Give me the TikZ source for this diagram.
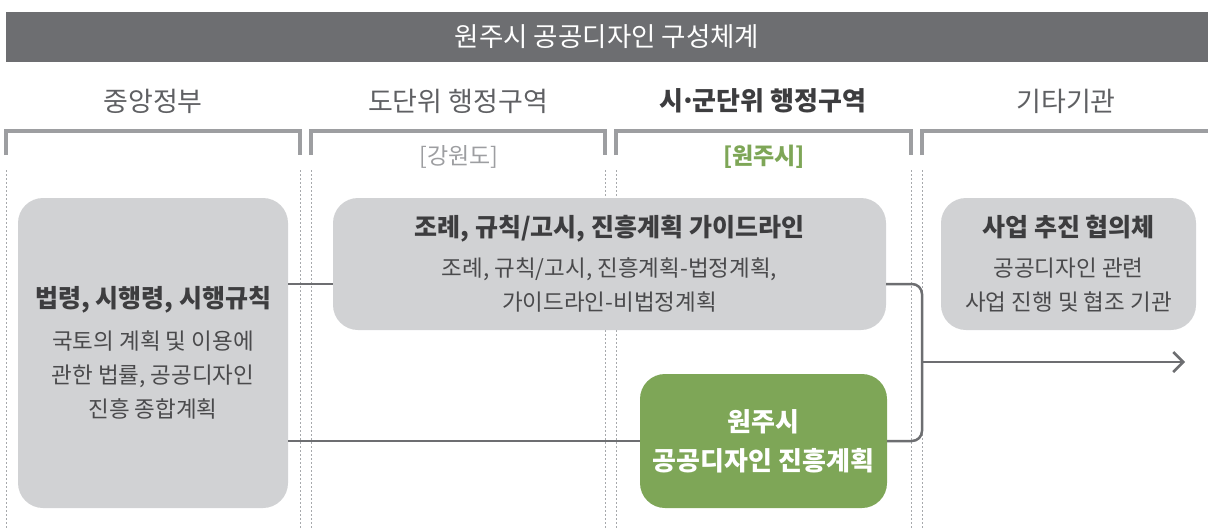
\documentclass[tikz,border=0pt]{standalone}
\usepackage{fontspec}
\setmainfont{Noto Sans CJK KR}
\usetikzlibrary{arrows.meta}
\definecolor{banner}{HTML}{6D6E71}
\definecolor{boxgray}{HTML}{D1D2D4}
\definecolor{grn}{HTML}{7EA657}
\definecolor{brk}{HTML}{9D9EA1}
\definecolor{dotc}{HTML}{A7A9AC}
\definecolor{txtd}{HTML}{3D3D3F}
\definecolor{txtm}{HTML}{4A4A4C}
\definecolor{hdc}{HTML}{5F6063}
\definecolor{connc}{HTML}{6D6E71}
\newcommand{\ttl}[1]{{\fontsize{25}{34}\selectfont\bfseries\color{txtd}#1}}
\begin{document}
\begin{tikzpicture}[x=1pt,y=-1pt,
  hd/.style={text=hdc, font=\fontsize{27}{30}\selectfont, inner sep=0},
  sublbl/.style={font=\fontsize{23}{26}\selectfont, inner sep=0},
  brkline/.style={draw=brk, line width=4pt},
  dotline/.style={draw=dotc, line width=1pt, dash pattern=on 2pt off 2pt},
  gbox/.style={fill=boxgray, rounded corners=25pt, align=center, inner sep=0, text=txtm,
     font=\fontsize{22.5}{34}\selectfont},
  greenbox/.style={fill=grn, rounded corners=25pt, align=center, inner sep=0, text=white,
     font=\fontsize{26}{39}\selectfont\bfseries},
  conn/.style={draw=connc, line width=2.5pt},
]
\useasboundingbox (0,0) rectangle (1208,528);
\node[fill=banner, minimum width=1202pt, minimum height=50pt, inner sep=0, text=white,
  font=\fontsize{26.5}{28}\selectfont] (title) at (607,37) {원주시 공공디자인 구성체계};

\foreach \x in {6,300,311,605,616,911,922} \draw[dotline] (\x,170) -- (\x,528);

\draw[brkline] (6,155) -- (6,131) -- (300,131) -- (300,155);
\draw[brkline] (311,155) -- (311,131) -- (605,131) -- (605,155);
\draw[brkline] (616,155) -- (616,131) -- (911,131) -- (911,155);
\draw[brkline] (922,155) -- (922,131) -- (1210,131);

\node[hd] (h1) at (153,101) {중앙정부};
\node[hd] (h2) at (458,101) {도단위 행정구역};
\node[hd, text=txtd, font=\fontsize{26}{30}\selectfont\bfseries] (h3) at (763,101) {시\kern-3.5pt·\kern-3.5pt군단위 행정구역};
\node[hd] (h4) at (1066,101) {기타기관};

\node[sublbl, text=brk] (s2) at (459,157) {[강원도]};
\node[sublbl, text=grn, font=\fontsize{23}{26}\selectfont\bfseries] (s3) at (764,157) {[원주시]};

\node[gbox, minimum width=270pt, minimum height=310pt] (gov) at (153,353)
  {\ttl{법령, 시행령, 시행규칙}\\[8pt]국토의 계획 및 이용에\\관한 법률, 공공디자인\\진흥 종합계획};
\node[gbox, minimum width=553pt, minimum height=132pt] (prov) at (609.5,264)
  {\ttl{조례, 규칙/고시, 진흥계획 가이드라인}\\[6pt]조례, 규칙/고시, 진흥계획-법정계획,\\가이드라인-비법정계획};
\node[gbox, minimum width=255pt, minimum height=132pt] (other) at (1068.5,264)
  {\ttl{사업 추진 협의체}\\[6pt]공공디자인 관련\\사업 진행 및 협조 기관};
\node[greenbox, minimum width=247pt, minimum height=134pt] (plan) at (763.5,441)
  {원주시\\공공디자인 진흥계획};

\coordinate (bus) at (922,362);
\coordinate (tip) at (1185,362);
\draw[conn] ([yshift=-20pt]gov.east |- prov.west) -- ([yshift=-20pt]prov.west);
\draw[conn] (gov.east |- plan.west) -- (plan.west);
\draw[conn, rounded corners=10pt] ([yshift=-20pt]prov.east) -| (bus) |- (plan.east);
\draw[conn, -{Straight Barb[length=10pt,width=20pt]}] (bus) -- (tip);
\end{tikzpicture}
\end{document}
